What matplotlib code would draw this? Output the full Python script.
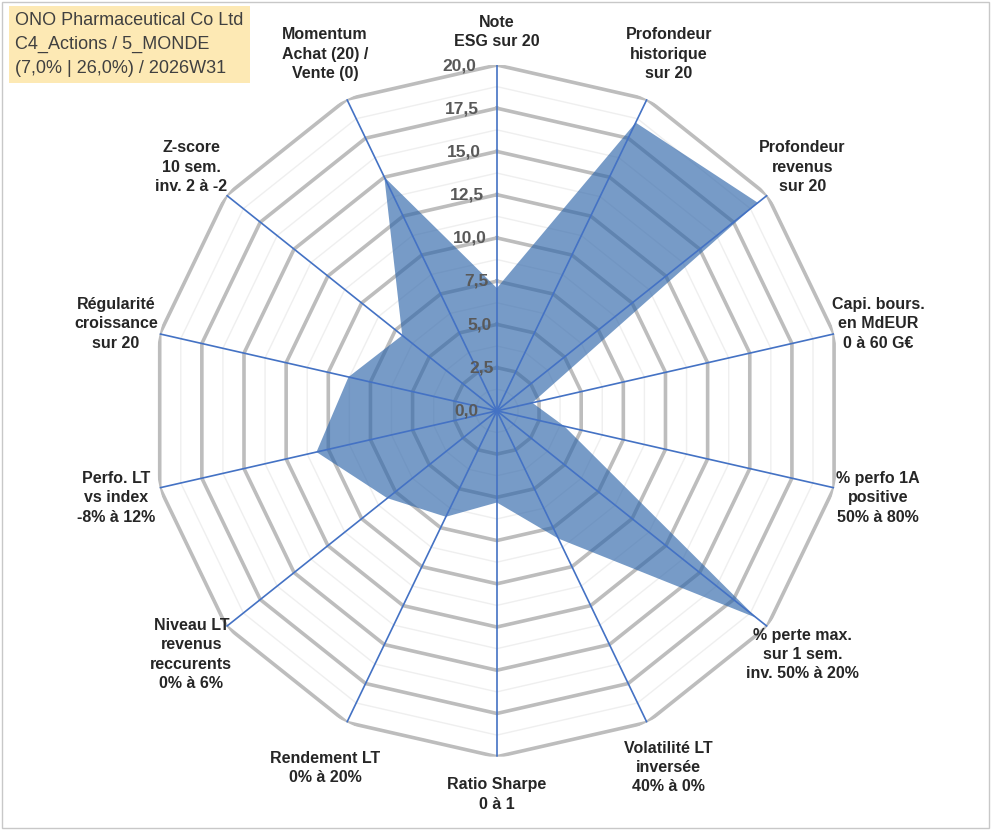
import numpy as np
import matplotlib
matplotlib.use("Agg")
import matplotlib.pyplot as plt

plt.rcParams["font.family"] = ["Liberation Sans", "DejaVu Sans"]

labels = ["Note\nESG sur 20", "Profondeur\nhistorique\nsur 20", "Profondeur\nrevenus\nsur 20",
          "Capi. bours.\nen MdEUR\n0 à 60 G€", "% perfo 1A\npositive\n50% à 80%",
          "% perte max.\nsur 1 sem.\ninv. 50% à 20%", "Volatilité LT\ninversée\n40% à 0%",
          "Ratio Sharpe\n0 à 1", "Rendement LT\n0% à 20%",
          "Niveau LT\nrevenus\nreccurents\n0% à 6%", "Perfo. LT\nvs index\n-8% à 12%",
          "Régularité\ncroissance\nsur 20", "Z-score\n10 sem.\ninv. 2 à -2",
          "Momentum\nAchat (20) /\nVente (0)"]
values = [7.1, 18.5, 19.3, 2.1, 4.0, 19.2, 8.2, 5.3, 6.8, 8.1, 10.7, 8.8, 7.0, 15.0]
ticks = [0, 2.5, 5, 7.5, 10, 12.5, 15, 17.5, 20]

n = len(labels)
theta = np.arange(n) * 2 * np.pi / n
closed = np.append(theta, theta[0])

fig = plt.figure(figsize=(9.91, 8.3), dpi=100)
ax = fig.add_axes([0.1524, 0.088, 0.698, 0.834], projection="polar")
ax.set_theta_offset(np.pi / 2)
ax.set_theta_direction(-1)
ax.set_ylim(0, 20)
ax.grid(False)
ax.spines["polar"].set_visible(False)
ax.set_xticks([])
ax.set_yticks([])

# polygon gridlines
for r in np.arange(1.25, 20.01, 1.25):
    major = abs(r / 2.5 - round(r / 2.5)) < 1e-6
    ax.plot(closed, [r] * (n + 1), color="#bdbdbd" if major else "#efefef",
            lw=2.6 if major else 1.0, zorder=1)
for t in theta:
    ax.plot([t, t], [0, 20], color="#4472c4", lw=1.2, zorder=4)

ax.fill(closed, np.append(values, values[0]), color="#2f66aa", alpha=0.65,
        zorder=3, lw=0)

for r in ticks:
    ax.text(np.deg2rad(-3.5) if r else np.pi, r if r else 0, f"{r:.1f}".replace(".", ","),
            ha="right", va="center", fontsize=12.5, fontweight="bold",
            color="#595959", zorder=5)
ax.texts[0].set_position((np.deg2rad(-90), 1.05))

for i, (t, lab) in enumerate(zip(theta, labels)):
    if i == 0:
        rr, va = 20.9, "bottom"
    elif i == 7:
        rr, va = 21.2, "top"
    else:
        rr, va = (22.9 if abs(np.cos(t)) > 0.8 else 22.6), "center"
    ax.text(t, rr, lab, ha="center", va=va, fontsize=11.5,
            fontweight="bold", color="#262626", clip_on=False, linespacing=1.35)

fig.text(0.015, 0.985, "ONO Pharmaceutical Co Ltd\nC4_Actions / 5_MONDE\n(7,0% | 26,0%) / 2026W31",
         ha="left", va="top", fontsize=13, color="#404040", linespacing=1.5,
         bbox=dict(boxstyle="square,pad=0.35", fc="#fde9b4", ec="none"))
fig.patches.append(plt.Rectangle((0.002, 0.002), 0.996, 0.996, transform=fig.transFigure,
                                 fill=False, ec="#c8c8c8", lw=1))
fig.savefig("out.png", dpi=100)
